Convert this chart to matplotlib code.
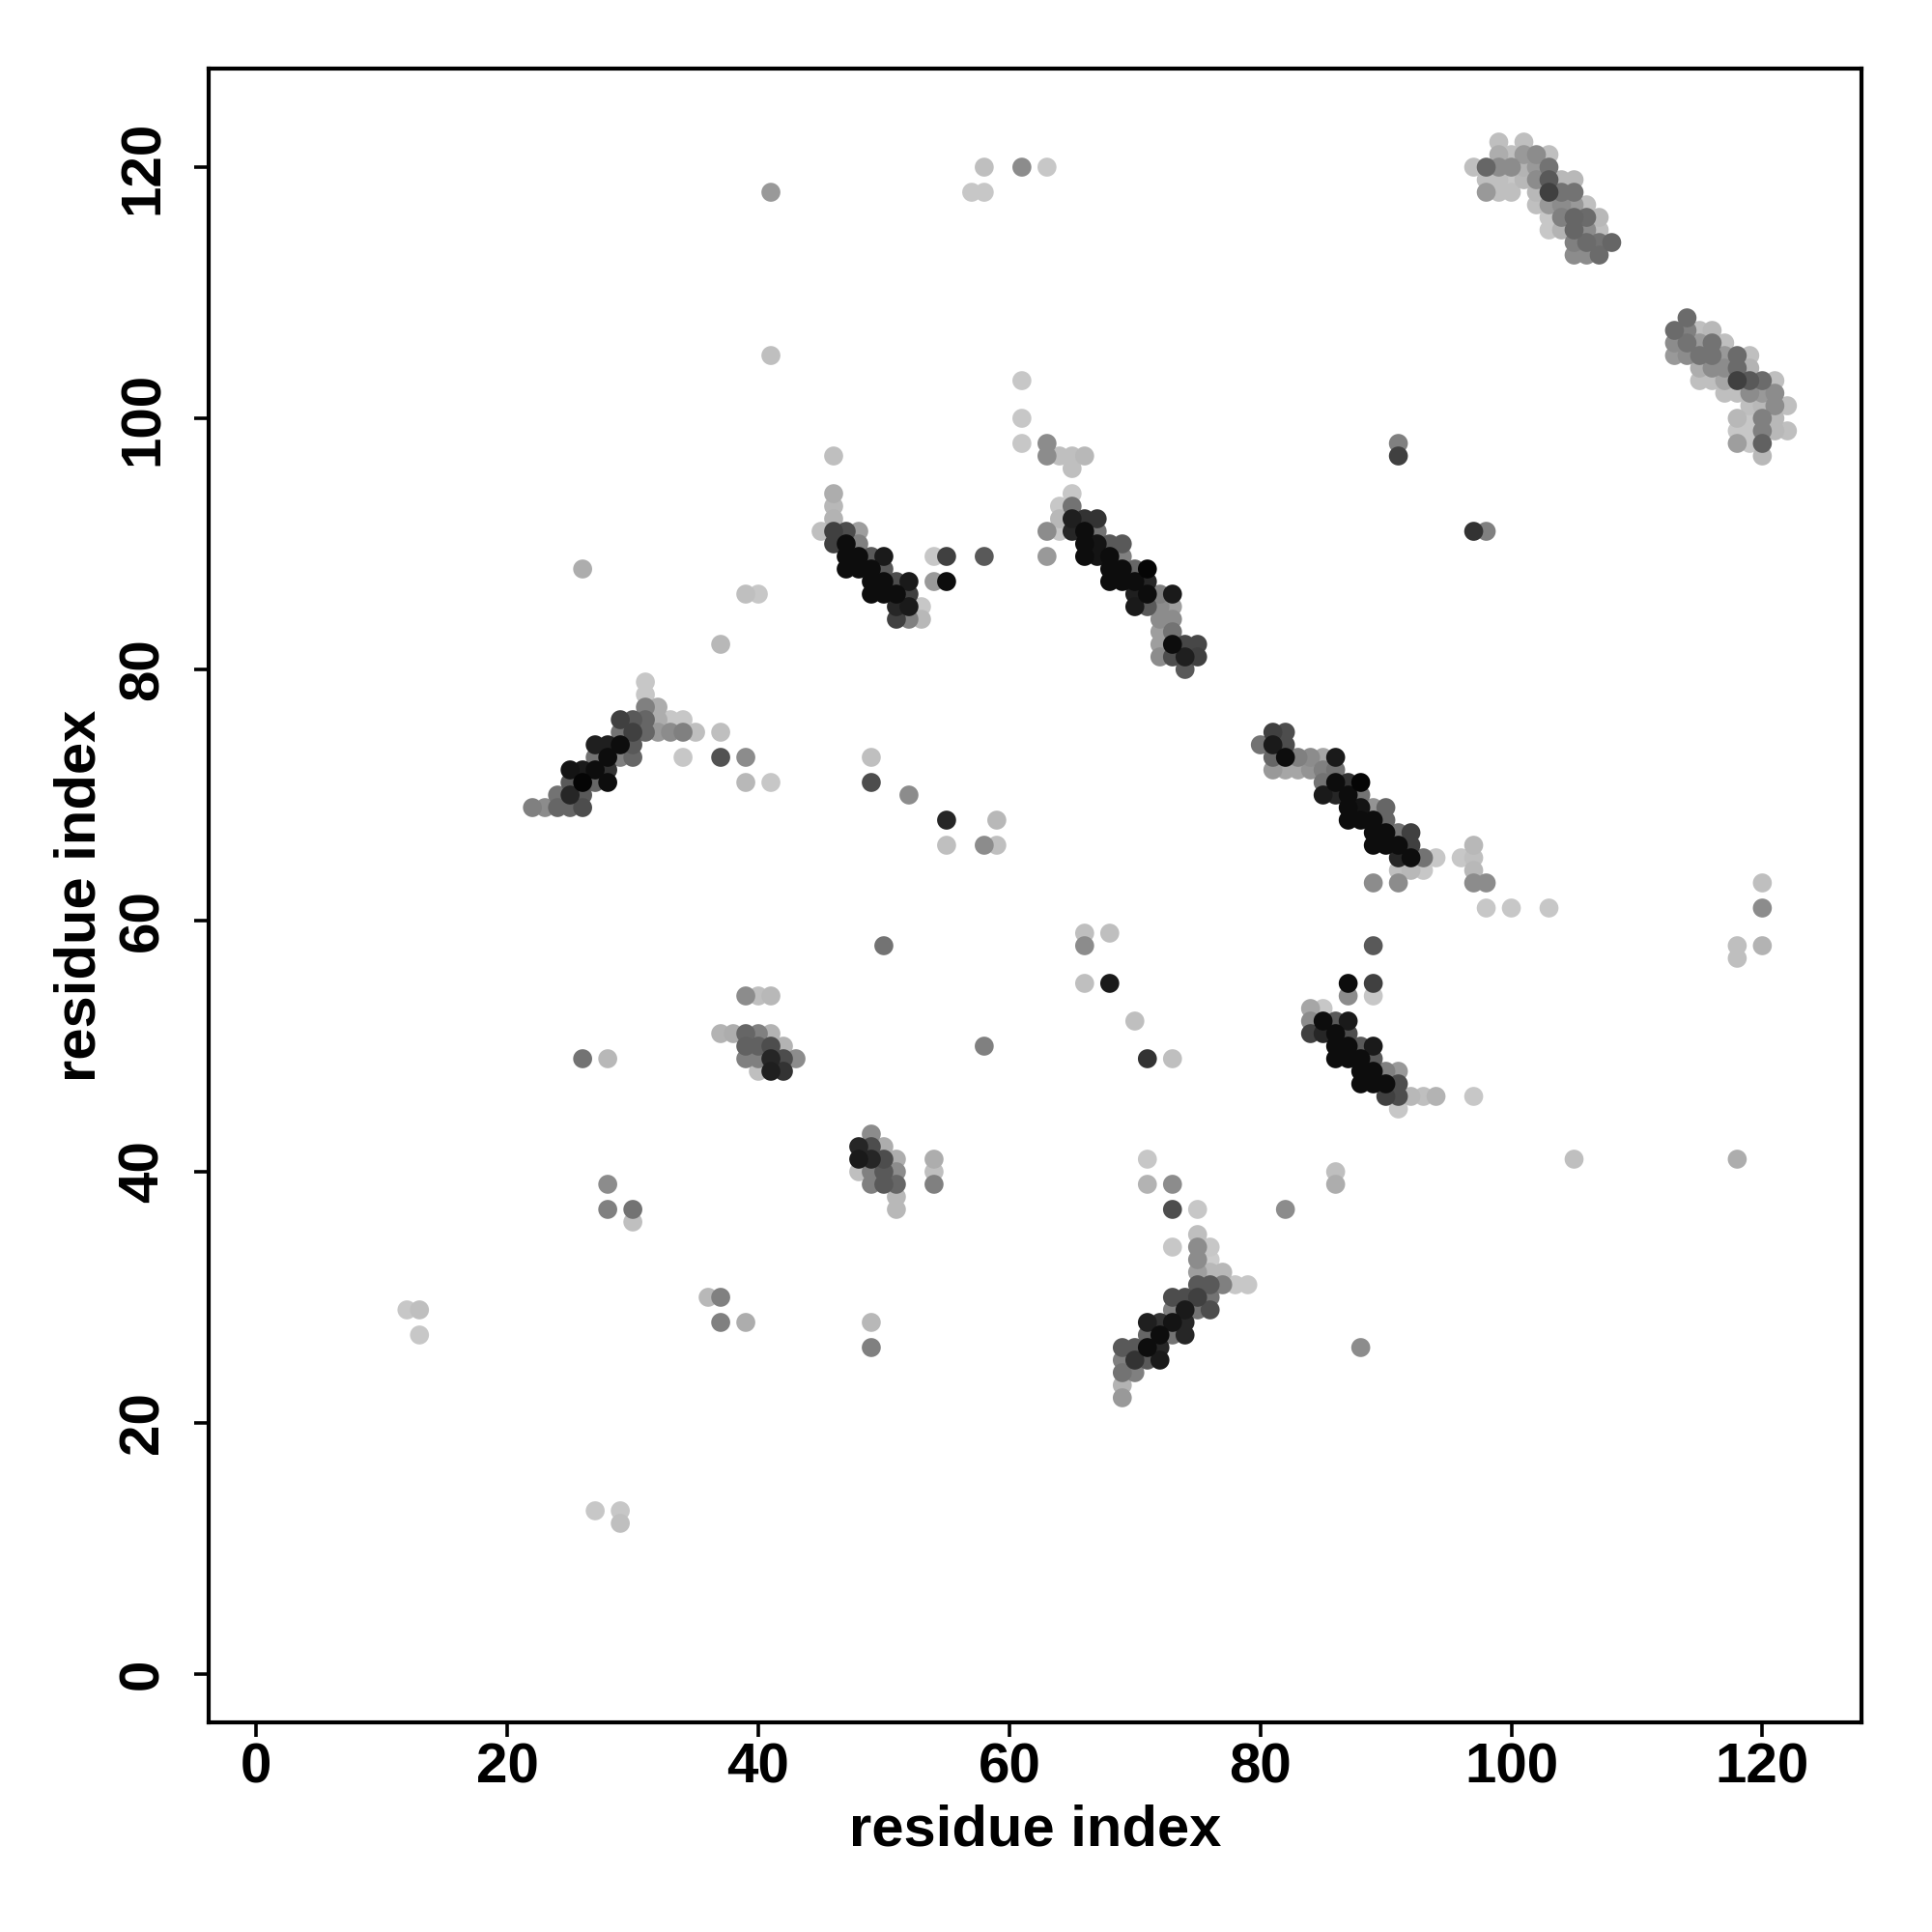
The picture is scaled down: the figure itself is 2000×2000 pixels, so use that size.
import matplotlib
matplotlib.use("Agg")
import matplotlib.pyplot as plt

plt.rcParams['font.family'] = ['Liberation Sans', 'DejaVu Sans']
plt.rcParams['font.weight'] = 'bold'

# (residue i, residue j, grey shade 0=black .. 1=white)
cluster_a = [(99,122,.75),(101,122,.75),
             (99,121,.68),(100,121,.75),(101,121,.6),(102,121,.55),(103,121,.75),
             (97,120,.75),(98,120,.4),(99,120,.55),(100,120,.55),(101,120,.7),(102,120,.6),(103,120,.45),
             (98,119,.75),(99,119,.75),(100,119,.78),(101,119,.72),(102,119,.55),(103,119,.35),(104,119,.72),(105,119,.72),
             (98,118,.6),(99,118,.75),(100,118,.75),(102,118,.72),(103,118,.25),(104,118,.45),(105,118,.45),
             (102,117,.75),(103,117,.6),(104,117,.55),(105,117,.6),(106,117,.75),
             (103,116,.78),(104,116,.5),(105,116,.4),(106,116,.42),(107,116,.72),
             (103,115,.78),(104,115,.7),(105,115,.4),(106,115,.55),(107,115,.75),
             (105,114,.5),(106,114,.42),(107,114,.45),(108,114,.4),
             (105,113,.55),(106,113,.55),(107,113,.42)]

cluster_b = [(114,108,.42),
             (113,107,.42),(114,107,.5),(115,107,.75),(116,107,.72),
             (113,106,.55),(114,106,.45),(115,106,.6),(116,106,.45),(117,106,.75),
             (113,105,.6),(114,105,.55),(115,105,.45),(116,105,.45),(117,105,.6),(118,105,.42),(119,105,.75),
             (115,104,.68),(116,104,.55),(117,104,.55),(118,104,.42),(119,104,.7),
             (115,103,.75),(116,103,.75),(117,103,.65),(118,103,.25),(119,103,.35),(120,103,.42),(121,103,.75),
             (117,102,.75),(118,102,.75),(119,102,.55),(120,102,.6),(121,102,.55),
             (119,101,.75),(120,101,.72),(121,101,.55),(122,101,.75),
             (118,100,.72),(119,100,.78),(120,100,.5),(121,100,.72),
             (118,99,.78),(119,99,.78),(120,99,.5),(121,99,.72),(122,99,.75),
             (118,98,.62),(119,98,.78),(120,98,.38),
             (120,97,.72)]

cluster_c = [(46,97,.75),(46,94,.68),(46,93,.72),(46,92,.7),
             (45,91,.75),(46,91,.25),(47,91,.3),(48,91,.62),
             (46,90,.25),(47,90,.05),(48,90,.5),
             (47,89,.05),(48,89,.05),(49,89,.35),(50,89,.1),(54,89,.78),(55,89,.25),(58,89,.35),
             (47,88,.05),(48,88,.05),(49,88,.05),(50,88,.35),
             (49,87,.05),(50,87,.05),(51,87,.3),(52,87,.1),(54,87,.6),(55,87,.05),
             (49,86,.05),(50,86,.05),(51,86,.05),(52,86,.25),
             (51,85,.15),(52,85,.1),(53,85,.78),
             (51,84,.25),(52,84,.5),(53,84,.72)]

cluster_d = [(61,103,.78),(61,100,.78),(61,98,.78),(63,98,.55),
             (63,97,.55),(64,97,.75),(65,97,.75),(66,97,.72),
             (65,96,.75),(65,94,.78),(64,93,.78),(65,93,.45),
             (64,92,.72),(65,92,.12),(66,92,.2),(67,92,.2),
             (63,91,.55),(64,91,.78),(65,91,.15),(66,91,.05),(67,91,.45),
             (66,90,.05),(67,90,.08),(68,90,.35),(69,90,.35),
             (63,89,.6),(66,89,.05),(67,89,.08),(68,89,.05),(69,89,.5),
             (68,88,.05),(69,88,.05),(70,88,.4),(71,88,.02),
             (68,87,.05),(69,87,.05),(70,87,.05),(71,87,.15),
             (70,86,.12),(71,86,.05),(72,86,.5),(73,86,.1),
             (70,85,.1),(71,85,.35),(72,85,.55),(73,85,.62),
             (72,84,.55),(73,84,.55),(72,83,.62),(73,83,.45),
             (72,82,.62),(73,82,.05),(74,82,.28),(75,82,.28),
             (72,81,.55),(73,81,.3),(74,81,.12),(75,81,.25),
             (74,80,.35)]

cluster_e = [(31,79,.78),(31,78,.78),(31,77,.5),(32,77,.68),
             (29,76,.25),(30,76,.35),(31,76,.4),(32,76,.68),(33,76,.78),(34,76,.78),
             (29,75,.45),(30,75,.25),(31,75,.4),(32,75,.6),(33,75,.55),(34,75,.5),(35,75,.75),(37,75,.75),
             (27,74,.12),(28,74,.12),(29,74,.05),(30,74,.35),
             (27,73,.45),(28,73,.05),(29,73,.5),(30,73,.4),(34,73,.78),(37,73,.32),
             (25,72,.08),(26,72,.1),(27,72,.05),(28,72,.2),
             (25,71,.35),(26,71,.02),(27,71,.4),(28,71,.05),
             (24,70,.45),(25,70,.15),(26,70,.35),
             (22,69,.5),(23,69,.55),(24,69,.4),(25,69,.4),(26,69,.3)]

cluster_f = [(81,75,.25),(82,75,.3),
             (80,74,.45),(81,74,.1),(82,74,.3),
             (81,73,.4),(82,73,.05),(83,73,.5),(84,73,.55),(85,73,.65),(86,73,.1),
             (81,72,.6),(82,72,.65),(83,72,.65),(84,72,.58),(85,72,.5),(86,72,.45),
             (85,71,.45),(86,71,.05),(87,71,.2),(88,71,.02),
             (85,70,.1),(86,70,.15),(87,70,.05),(88,70,.45),
             (87,69,.05),(88,69,.08),(89,69,.58),(90,69,.4),
             (87,68,.05),(88,68,.05),(89,68,.05),(90,68,.4),
             (89,67,.05),(90,67,.05),(91,67,.45),(92,67,.25),
             (89,66,.05),(90,66,.05),(91,66,.05),(92,66,.25),(97,66,.72),
             (91,65,.15),(92,65,.05),(93,65,.45),(94,65,.78),(96,65,.78),(97,65,.75),
             (91,64,.75),(92,64,.72),(93,64,.78),(97,64,.72),
             (89,63,.55),(91,63,.55),(97,63,.55),(98,63,.55),
             (98,61,.78),(100,61,.78),(103,61,.78)]

cluster_g = [(89,58,.35),(87,55,.05),(89,55,.25),(87,54,.55),(89,54,.78),
             (84,53,.65),(85,53,.78),
             (84,52,.55),(85,52,.05),(86,52,.35),(87,52,.1),
             (84,51,.25),(85,51,.15),(86,51,.05),(87,51,.3),
             (86,50,.05),(87,50,.05),(88,50,.35),(89,50,.1),
             (86,49,.05),(87,49,.05),(88,49,.05),(89,49,.35),
             (88,48,.05),(89,48,.05),(90,48,.5),(91,48,.6),
             (88,47,.05),(89,47,.05),(90,47,.05),(91,47,.3),
             (90,46,.25),(91,46,.3),(92,46,.72),(93,46,.75),(94,46,.7),(97,46,.78),
             (91,45,.78)]

cluster_h = [(71,41,.78),(71,39,.7),(73,39,.55),(73,37,.3),(75,37,.78),
             (75,35,.75),(73,34,.78),(75,34,.55),(76,34,.78),
             (75,33,.55),(76,33,.8),
             (75,32,.62),(76,32,.72),(77,32,.72),
             (75,31,.35),(76,31,.35),(77,31,.5),(78,31,.78),(79,31,.78),
             (73,30,.3),(74,30,.3),(75,30,.25),(76,30,.45),
             (73,29,.5),(74,29,.1),(75,29,.45),(76,29,.3),
             (71,28,.12),(72,28,.2),(73,28,.08),(74,28,.15),
             (71,27,.4),(72,27,.05),(73,27,.45),(74,27,.15),
             (69,26,.35),(70,26,.35),(71,26,.05),(72,26,.15),
             (69,25,.5),(70,25,.2),(71,25,.35),(72,25,.1),
             (69,24,.45),(70,24,.5),(69,23,.7),(69,22,.6)]

cluster_i = [(39,54,.55),(40,54,.75),(41,54,.72),
             (37,51,.7),(38,51,.68),(39,51,.4),(40,51,.5),(41,51,.7),
             (39,50,.38),(40,50,.38),(41,50,.3),(42,50,.7),
             (39,49,.5),(40,49,.5),(41,49,.15),(42,49,.3),(43,49,.55),
             (40,48,.75),(41,48,.12),(42,48,.2)]

cluster_j = [(49,43,.55),
             (48,42,.15),(49,42,.3),(50,42,.68),
             (48,41,.1),(49,41,.15),(50,41,.3),(51,41,.68),(54,41,.68),
             (48,40,.75),(49,40,.5),(50,40,.35),(51,40,.55),(54,40,.75),
             (49,39,.5),(50,39,.35),(51,39,.4),(54,39,.5),
             (51,38,.72),(51,37,.72)]

scattered = [(58,120,.75),(61,120,.55),(63,120,.78),(57,118,.78),(58,118,.78),
             (41,118,.6),(41,105,.75),(26,88,.68),(39,86,.75),(40,86,.78),(37,82,.72),
             (39,73,.55),(39,71,.72),(41,71,.78),(49,73,.75),(49,71,.3),(52,70,.55),
             (55,68,.15),(55,66,.75),(58,66,.55),(59,66,.75),(59,68,.72),
             (91,98,.5),(91,97,.25),(97,91,.2),(98,91,.5),
             (120,63,.75),(120,61,.55),(118,58,.75),(118,57,.75),(120,58,.7),
             (66,59,.75),(66,58,.55),(68,59,.75),(66,55,.75),(68,55,.1),
             (70,52,.75),(71,49,.2),(73,49,.75),(50,58,.45),(58,50,.5),
             (26,49,.45),(28,49,.72),(28,39,.55),(28,37,.5),(30,37,.45),(30,36,.75),
             (12,29,.78),(13,29,.75),(13,27,.78),(36,30,.72),(37,30,.5),(37,28,.5),(39,28,.68),
             (49,28,.72),(49,26,.5),(27,13,.78),(29,13,.78),(29,12,.75),
             (82,37,.55),(86,40,.75),(86,39,.68),(88,26,.55),(105,41,.75),(118,41,.68)]

ticks = [0, 20, 40, 60, 80, 100, 120]
axis_label = "residue index"

points = (cluster_a + cluster_b + cluster_c + cluster_d + cluster_e + cluster_f +
          cluster_g + cluster_h + cluster_i + cluster_j + scattered)
points = sorted(points, key=lambda p: -p[2])  # darker drawn on top
xs = [p[0] for p in points]
ys = [p[1] for p in points]
cols = [(p[2], p[2], p[2]) for p in points]

fig = plt.figure(figsize=(10, 10), dpi=200)
ax = fig.add_axes([0.108, 0.1085, 0.8555, 0.856])
ax.scatter(xs, ys, s=50, c=cols, edgecolors='none')

ax.set_xlim(-3.8, 127.9)
ax.set_ylim(-3.85, 127.85)
ax.set_xticks(ticks)
ax.set_yticks(ticks)
ax.set_xticklabels([str(t) for t in ticks], fontsize=21, fontweight='bold')
ax.set_yticklabels([str(t) for t in ticks], fontsize=21, fontweight='bold',
                   rotation=90, va='center')
ax.tick_params(axis='both', direction='out', length=5.5, width=1.3, color='black')
ax.tick_params(axis='x', pad=2)
ax.tick_params(axis='y', pad=9)
for sp in ax.spines.values():
    sp.set_linewidth(1.5)
ax.set_xlabel(axis_label, fontsize=21.5, fontweight='bold', labelpad=3.5)
ax.set_ylabel(axis_label, fontsize=21.5, fontweight='bold', labelpad=4)

fig.savefig("out.png", dpi=200, facecolor='white')
